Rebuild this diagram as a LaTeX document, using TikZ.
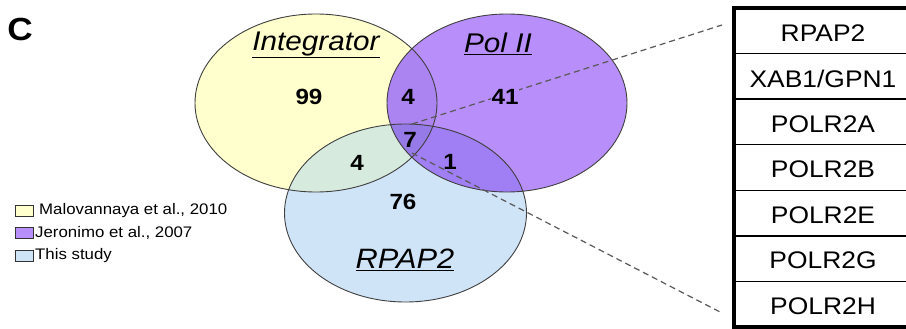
\documentclass[tikz,border=0pt]{standalone}
\usepackage{fontspec}
\setmainfont[FakeStretch=1.1]{Liberation Sans}
\definecolor{yel}{RGB}{255,255,206}
\definecolor{blu}{RGB}{208,228,248}
\definecolor{pur}{RGB}{184,142,250}
\definecolor{yb}{RGB}{214,234,222}
\definecolor{py}{RGB}{172,132,242}
\definecolor{pb}{RGB}{160,126,244}
\definecolor{pyb}{RGB}{150,122,232}
\tikzset{
  num/.style={font=\fontsize{22}{24}\selectfont\bfseries, inner sep=1pt},
  setlab/.style={font=\fontsize{27}{30}\selectfont\itshape, inner sep=0pt},
  leg/.style={font=\fontsize{15.3}{18}\selectfont, anchor=west, inner sep=0pt},
  legbox/.style={draw=black!80, line width=0.8pt, minimum width=18pt, minimum height=11pt, inner sep=0pt},
  cell/.style={font=\fontsize{24}{26}\selectfont, inner sep=0pt},
  zoomline/.style={dash pattern=on 6pt off 4pt, line width=1.2pt, draw=black!65},
  ring/.style={draw=black!75, line width=0.9pt},
  sep/.style={draw=black, line width=1.3pt},
}
\begin{document}
\begin{tikzpicture}[x=1pt,y=-1pt]
\fill[white] (0,0) rectangle (906,329);
\useasboundingbox (0,0) rectangle (906,329);
\def\ellY{(316,103) ellipse [x radius=121pt, y radius=89pt]}
\def\ellP{(507,103) ellipse [x radius=120pt, y radius=89pt]}
\def\ellB{(405.5,213) ellipse [x radius=121pt, y radius=89pt]}
% fills
\fill[yel] \ellY;
\fill[blu] \ellB;
\begin{scope}\clip \ellY; \fill[yb] \ellB;\end{scope}
\fill[pur] \ellP;
\begin{scope}\clip \ellP; \fill[py] \ellY;\end{scope}
\begin{scope}\clip \ellP; \fill[pb] \ellB;\end{scope}
\begin{scope}\clip \ellP; \clip \ellY; \fill[pyb] \ellB;\end{scope}
\draw[ring] \ellY;
\draw[ring] \ellP;
\draw[ring] \ellB;
% label C
\node[font=\fontsize{32}{34}\selectfont\bfseries, inner sep=0pt] (lblC) at (20,29) {C};
% set labels
\node[setlab] (intg) at (316,45) {\underline{Integrator}};
\node[setlab] (pol) at (498,44) {\underline{Pol II}};
\node[setlab, font=\fontsize{28}{30}\selectfont\itshape] (rpap) at (405,260) {\underline{RPAP2}};
% zoom lines
\coordinate (zc1) at (412,124);
\coordinate (zc2) at (412,153);
\coordinate (zt1) at (722,25);
\coordinate (zt2) at (722,313);
\draw[zoomline] (zc1) -- (zt1);
\draw[zoomline] (zc2) -- (zt2);
% numbers
\node[num] (n99) at (309,97) {99};
\node[num] (n4a) at (408,97) {4};
\node[num, fill=pur] (n41) at (505,97) {41};
\node[num] (n7) at (410,140) {7};
\node[num] (n4b) at (357,163) {4};
\node[num] (n1) at (450,162) {1};
\node[num] (n76) at (403,202) {76};
% legend
\node[legbox, fill=yel] (lb1) at (24,210.5) {};
\node[legbox, fill=pur] (lb2) at (24,233) {};
\node[legbox, fill=blu] (lb3) at (24,255.5) {};
\node[leg] (lt1) at (39,210.5) {Malovannaya et al., 2010};
\node[leg] (lt2) at (35,233) {Jeronimo et al., 2007};
\node[leg] (lt3) at (35,255.5) {This study};
% table grid
\foreach \yy in {53.6,99.1,144.7,190.3,235.9,281.4} {\draw[sep] (734,\yy) -- (940,\yy);}
\draw[line width=3.5pt] (734,8) rectangle (940,327);
\node[cell] (c1) at (823,33) {RPAP2};
\node[cell] (c2) at (823,78.5) {XAB1/GPN1};
\node[cell] (c3) at (823,124) {POLR2A};
\node[cell] (c4) at (823,169.5) {POLR2B};
\node[cell] (c5) at (823,215) {POLR2E};
\node[cell] (c6) at (823,260.5) {POLR2G};
\node[cell] (c7) at (823,306) {POLR2H};
\end{tikzpicture}
\end{document}
